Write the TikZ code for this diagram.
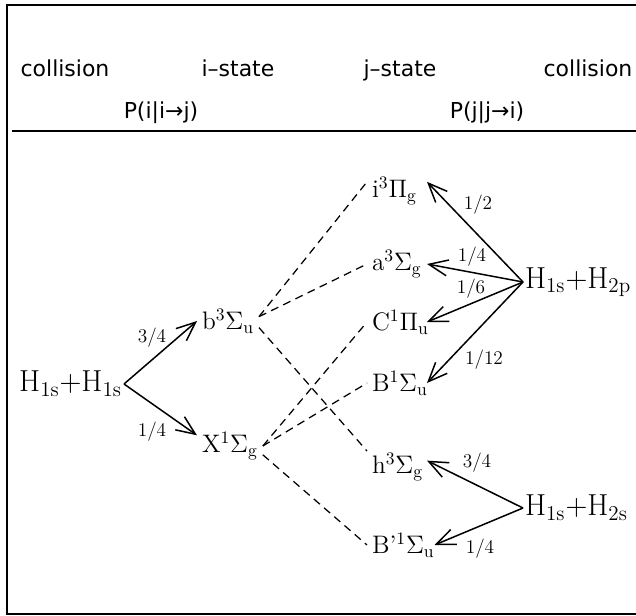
\documentclass[tikz,border=0pt]{standalone}
\usepackage{fontspec}
\newfontfamily\hdfont{DejaVu Sans}
\usetikzlibrary{arrows.meta}
\tikzset{
  hd/.style={font=\hdfont\fontsize{12.5}{15}\selectfont,inner sep=0pt,anchor=base},
  cnode/.style={font=\fontsize{17.28}{20}\selectfont,inner sep=1pt},
  snode/.style={font=\fontsize{14.4}{16}\selectfont,inner sep=1mm,outer sep=0pt},
  rnode/.style={snode,text width=10mm,align=left,anchor=west},
  fr/.style={font=\fontsize{11}{13}\selectfont,inner sep=0pt},
  pe/.style={-{Straight Barb[length=3.8mm,width=3.2mm]},line width=0.3mm},
  ce/.style={dash pattern=on 1.6mm off 1.1mm,line width=0.25mm}
}

\begin{document}
\begin{tikzpicture}[x=0.2mm,y=-0.2mm]
\useasboundingbox (0,0) rectangle (636,616);
\draw[line width=0.4mm] (636,5) -- (7,5) -- (7,614) -- (636,614);
\draw[line width=0.25mm] (12,131) -- (636,131);
% headings
\node[hd] (c1)  at (65,77)   {collision};
\node[hd] (ist) at (238,77)  {i–state};
\node[hd] (jst) at (400,77)  {j–state};
\node[hd] (c2)  at (588,77)  {collision};
\node[hd] (pij) at (161,119) {P(i|i→j)};
\node[hd] (pji) at (487,119) {P(j|j→i)};
% collisions
\node[cnode,anchor=east] (h11)  at (124,384) {H$_{\rm 1s}$+H$_{\rm 1s}$};
\node[cnode,anchor=west] (h12p) at (523,282) {H$_{\rm 1s}$+H$_{\rm 2p}$};
\node[cnode,anchor=west] (h12s) at (523,508) {H$_{\rm 1s}$+H$_{\rm 2s}$};
% states
\node[snode,anchor=west] (b) at (197,321) {b$^3\Sigma_{\rm u}$};
\node[snode,anchor=west] (X) at (197,446) {X$^1\Sigma_{\rm g}$};
\node[rnode] (i)  at (367,191) {i$^3\Pi_{\rm g}$};
\node[rnode] (a)  at (367,264) {a$^3\Sigma_{\rm g}$};
\node[rnode] (C)  at (367,322) {C$^1\Pi_{\rm u}$};
\node[rnode] (B)  at (367,383) {B$^1\Sigma_{\rm u}$};
\node[rnode] (h)  at (367,467) {h$^3\Sigma_{\rm g}$};
\node[rnode,text width=11.5mm] (Bp) at (367,545) {B’$^1\Sigma_{\rm u}$};
% probabilities
\node[fr] (f1) at (152,338) {3/4};
\node[fr] (f2) at (152,432) {1/4};
\node[fr] (f3) at (478,205) {1/2};
\node[fr] (f4) at (472,257) {1/4};
\node[fr] (f5) at (471,289) {1/6};
\node[fr] (f6) at (484,360) {1/12};
\node[fr] (f7) at (477,463) {3/4};
\node[fr] (f8) at (480,549) {1/4};
\draw[pe] (h11.east) -- (b.west);
\draw[pe] (h11.east) -- (X.162);
\draw[pe] (h12p.west) -- (i.17);
\draw[pe] (h12p.west) -- (a.east);
\draw[pe] (h12p.west) -- (C.east);
\draw[pe] (h12p.west) -- (B.east);
\draw[pe] (h12s.west) -- (h.12);
\draw[pe] (h12s.west) -- (Bp.east);
% correlations
\draw[ce] (b.8) -- (i.163);
\draw[ce] (b.8) -- (a.west);
\draw[ce] (b.348) -- (h.152);
\draw[ce] (X.east) -- (C.west);
\draw[ce] (X.east) -- (B.west);
\draw[ce] (X.345) -- (Bp.west);
\end{tikzpicture}
\end{document}
